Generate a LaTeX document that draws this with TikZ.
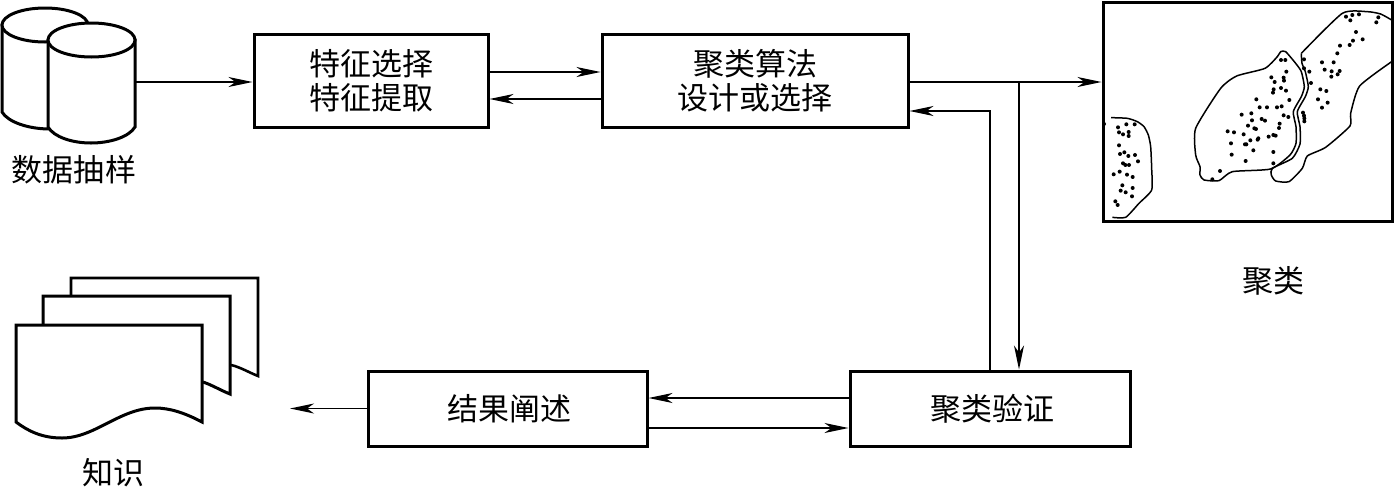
\documentclass[tikz,border=0pt]{standalone}
\usepackage{fontspec}
\setmainfont{Noto Sans CJK SC}
\usetikzlibrary{arrows.meta}
\tikzset{
  x=1pt,y=-1pt,
  box/.style={draw=black,line width=3pt,fill=white,inner sep=0pt,align=center,font=\fontsize{31pt}{34pt}\selectfont},
  lbl/.style={inner sep=0pt,font=\fontsize{31pt}{34pt}\selectfont},
  arr/.style={line width=1.4pt,-{Stealth[length=24pt,width=10pt,inset=7pt]}},
  shapeline/.style={draw=black,line width=3pt,fill=white,line join=miter},
  blob/.style={draw=black,line width=1.5pt,smooth,tension=.35},
}
\begin{document}
\begin{tikzpicture}
\useasboundingbox (0,0) rectangle (1394,488);
% boxes
\node[box,minimum width=234pt,minimum height=93pt] (sel) at (371,80.5) {特征选择\\特征提取};
\node[box,minimum width=306pt,minimum height=93pt] (alg) at (755,80.5) {聚类算法\\设计或选择};
\node[box,minimum width=280pt,minimum height=75pt] (val) at (990,408.5) {\hspace{4pt}聚类验证};
\node[box,minimum width=279pt,minimum height=75pt] (res) at (507.5,408.5) {\hspace{4pt}结果阐述};
\node[draw=black,line width=3pt,inner sep=0pt,minimum width=289pt,minimum height=219pt] (frame) at (1247.5,111.5) {};
% labels
\node[lbl] (l1) at (74,170) {数据抽样};
\node[lbl] (l2) at (113,473) {知识};
\node[lbl] (l3) at (1273,281) {聚类};
% cylinders
\draw[shapeline] (2,25) -- (2,112) .. controls (8,122) and (28,129) .. (50,129) -- (90,129) -- (88,25) -- cycle;
\draw[shapeline] (45,25) ellipse[x radius=43,y radius=17];
\draw[shapeline] (48,40) -- (48,127) .. controls (54,137) and (72,143) .. (91,143) .. controls (110,143) and (129,137) .. (135,127) -- (135,40) -- cycle;
\draw[shapeline] (91.5,40) ellipse[x radius=43.5,y radius=17];
\coordinate (db) at (135,82);
% documents
\draw[line width=2.6pt,fill=white] (71,300) -- (71,278) -- (258,278) -- (258,376) .. controls (248,372) and (240,367) .. (231,365);
\draw[line width=3pt,fill=white] (43,330) -- (43,296) -- (230,296) -- (230,394) .. controls (220,390) and (212,385) .. (203,382);
\draw[shapeline] (16,325) -- (202,325) -- (202,422) .. controls (185,413) and (170,408) .. (155,408) .. controls (120,408) and (95,438) .. (62,438) .. controls (42,438) and (28,431) .. (16,422) -- cycle;
\coordinate (kn) at (290,408.5);
% connectors
\draw[arr] (db) -- (db -| sel.west);
\draw[arr] ([yshift=8.5pt]sel.east) -- ([yshift=8.5pt]alg.west);
\draw[arr] ([yshift=-18.5pt]alg.west) -- ([yshift=-18.5pt]sel.east);
\draw[arr] ([yshift=-1.5pt]alg.east) -- ([yshift=-1.5pt]alg.east -| frame.west);
\coordinate (br) at (1019,82);
\draw[arr] (br) -- (br |- val.north);
\draw[arr] (val.north) |- ([yshift=-30.5pt]alg.east);
\draw[arr] ([yshift=10.5pt]val.west) -- ([yshift=10.5pt]res.east);
\draw[arr] ([yshift=-19.5pt]res.east) -- ([yshift=-19.5pt]val.west);
\draw[arr] (res.west) -- (kn);
% scatter (zoom coordinates)
\begin{scope}[shift={(1094,0)},x=0.3333pt,y=-0.3333pt]
\draw[blob] plot coordinates {(51,353)(100,355)(130,365)(150,380)(163,405)(170,440)(173,505)(173,570)(135,610)(95,652)(55,652)};
\draw[blob] plot[smooth cycle] coordinates {(305,385)(380,265)(428,228)(513,205)(550,170)(560,155)(575,155)(605,190)(622,215)(631,260)(622,290)(598,335)(606,380)(606,430)(588,465)(530,507)(415,515)(375,542)(330,540)(318,525)(318,500)(305,465)};
\draw[blob] plot coordinates {(622,160)(745,40)(820,35)(860,42)(893,60)};
\draw[blob] plot coordinates {(893,185)(797,258)(770,340)(768,378)(695,442)(640,468)(625,505)(585,545)(545,543)(532,525)(535,505)(595,475)(618,432)(618,380)(610,335)(634,290)(643,260)(634,215)(624,190)(622,160)};
\foreach \p in {(30,372),(72,382),(97,373),(122,373),(75,397),(87,403),(104,396),(104,408),(75,436),(78,462),(91,457),(103,468),(123,465),(132,484),(87,490),(94,495),(105,495),(59,523),(77,515),(99,524),(116,531),(85,556),(116,564),(80,572),(95,577),(114,589),(64,604),(71,615),
(355,538),(378,513),(401,394),(420,397),(411,430),(413,464),(455,483),(443,344),(449,403),(453,433),(457,433),(462,377),(469,421),(472,340),(474,361),(478,451),(481,385),(486,387),(487,298),(491,419),(493,415),(497,322),(503,357),(513,362),(519,322),(524,410),(538,405),(545,407),(538,456),(538,490),(549,322),(555,384),(557,371),(563,319),(569,346),(583,351),(586,300),(576,272),(561,264),(537,278),(539,268),(542,246),(532,232),(569,233),(570,242),(577,215),(561,180),(574,180),
(630,178),(630,205),(646,215),(651,249),(627,338),(630,347),(631,355),(631,364),(672,298),(679,268),(697,273),(684,323),(701,308),(684,187),(692,209),(713,214),(712,230),(719,187),(730,160),(731,223),(737,213),(738,137),(767,135),(777,122),(786,96),(806,118),(756,50),(769,61),(775,45),(795,43),(853,52),(847,67)}
  \fill \p circle[radius=2pt];
\end{scope}
\end{tikzpicture}
\end{document}
